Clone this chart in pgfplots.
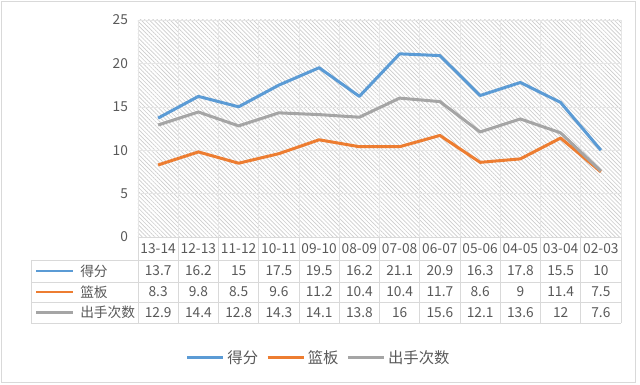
\documentclass[border=0pt]{standalone}
\usepackage{pgfplots}
\pgfplotsset{compat=1.18}
\usepackage{pgfplotstable}
\usepackage{fontspec}
\setmainfont{Noto Sans CJK SC}
\usetikzlibrary{patterns.meta}
\definecolor{cBlue}{HTML}{5B9BD5}
\definecolor{cOrange}{HTML}{ED7D31}
\definecolor{cGray}{HTML}{A5A5A5}
\definecolor{cText}{HTML}{595959}
\definecolor{cLine}{HTML}{D9D9D9}
\definecolor{cGrid}{HTML}{E6E6E6}
\definecolor{cHatch}{HTML}{CDCDCD}

\pgfplotstableread{
x season pts reb fga
0 13-14 13.7 8.3 12.9
1 12-13 16.2 9.8 14.4
2 11-12 15 8.5 12.8
3 10-11 17.5 9.6 14.3
4 09-10 19.5 11.2 14.1
5 08-09 16.2 10.4 13.8
6 07-08 21.1 10.4 16
7 06-07 20.9 11.7 15.6
8 05-06 16.3 8.6 12.1
9 04-05 17.8 9 13.6
10 03-04 15.5 11.4 12
11 02-03 10 7.5 7.6
}\data

\begin{document}
\begin{tikzpicture}
\useasboundingbox (0,0) rectangle (480pt,288.75pt);
\draw[cLine, line width=0.75pt] (1pt,1.5pt) rectangle (476.25pt,287.25pt);
\begin{axis}[
  at={(103.5pt,111pt)}, anchor=south west,
  scale only axis, width=362.25pt, height=162.75pt,
  xmin=-0.5, xmax=11.5, ymin=0, ymax=25,
  ytick={0,5,...,25},
  xtick={0,...,11},
  xticklabels={13-14,12-13,11-12,10-11,09-10,08-09,07-08,06-07,05-06,04-05,03-04,02-03},
  minor xtick={-0.5,0.5,...,11.5},
  xminorgrids, ymajorgrids,
  grid style={cGrid, line width=0.4pt},
  minor grid style={cGrid, line width=0.4pt},
  major tick length=0pt, minor tick length=0pt,
  axis line style={draw=none},
  clip=false,
  /pgf/number format/assume math mode=true,
  tick label style={font=\fontsize{10.3}{12}\selectfont, text=cText},
  yticklabel style={xshift=-4pt},
  xticklabel style={anchor=center, yshift=-9pt},
  axis background/.style={fill=white, postaction={pattern={Lines[angle=-45,distance=2.2pt,line width=0.5pt]}, pattern color=cHatch}},
  legend style={at={(0.3747,-0.5576)}, anchor=center, draw=none, fill=none,
    font=\fontsize{11.5}{13}\selectfont, text=cText, legend columns=3,
    /tikz/every even column/.append style={column sep=4pt}},
  legend image code/.code={\draw[#1] (0pt,0pt) -- (27pt,0pt);},
]
\addplot[cBlue, line width=2.25pt, line join=round] table[x=x, y=pts] {\data};
\addlegendentry{得分}
\addplot[cOrange, line width=2.25pt, line join=round] table[x=x, y=reb] {\data};
\addlegendentry{篮板}
\addplot[cGray, line width=2.25pt, line join=round] table[x=x, y=fga] {\data};
\addlegendentry{出手次数}

% data table grid
\draw[cLine, line width=0.6pt] (axis cs:-0.5,0) -- (axis cs:11.5,0);
\draw[cLine, line width=0.6pt] (axis cs:-3.158,-2.65) -- (axis cs:11.5,-2.65);
\draw[cLine, line width=0.6pt] (axis cs:-3.158,-5.18) -- (axis cs:11.5,-5.18);
\draw[cLine, line width=0.6pt] (axis cs:-3.158,-7.49) -- (axis cs:11.5,-7.49);
\draw[cLine, line width=0.6pt] (axis cs:-3.158,-9.91) -- (axis cs:11.5,-9.91);
\draw[cLine, line width=0.6pt] (axis cs:-3.158,-2.65) -- (axis cs:-3.158,-9.91);
\pgfplotsinvokeforeach{-0.5,0.5,1.5,2.5,3.5,4.5,5.5,6.5,7.5,8.5,9.5,10.5,11.5}{
  \draw[cLine, line width=0.6pt] (axis cs:#1,0) -- (axis cs:#1,-9.91);
}
% row keys
\draw[cBlue, line width=1.7pt] (axis cs:-3.034,-3.92) -- (axis cs:-2.115,-3.92);
\draw[cOrange, line width=1.7pt] (axis cs:-3.034,-6.34) -- (axis cs:-2.115,-6.34);
\draw[cGray, line width=1.7pt] (axis cs:-3.034,-8.70) -- (axis cs:-2.115,-8.70);
\node[anchor=west, text=cText, font=\fontsize{10.3}{12}\selectfont, inner sep=0pt] at (axis cs:-1.941,-3.92) {得分};
\node[anchor=west, text=cText, font=\fontsize{10.3}{12}\selectfont, inner sep=0pt] at (axis cs:-1.941,-6.34) {篮板};
\node[anchor=west, text=cText, font=\fontsize{10.3}{12}\selectfont, inner sep=0pt] at (axis cs:-1.941,-8.70) {出手次数};

% values
\addplot[draw=none, mark=none, forget plot, nodes near coords, point meta=explicit symbolic,
  nodes near coords style={anchor=center, text=cText, font=\fontsize{10.3}{12}\selectfont}]
  table[x=x, y expr=-3.92, meta=pts] {\data};
\addplot[draw=none, mark=none, forget plot, nodes near coords, point meta=explicit symbolic,
  nodes near coords style={anchor=center, text=cText, font=\fontsize{10.3}{12}\selectfont}]
  table[x=x, y expr=-6.34, meta=reb] {\data};
\addplot[draw=none, mark=none, forget plot, nodes near coords, point meta=explicit symbolic,
  nodes near coords style={anchor=center, text=cText, font=\fontsize{10.3}{12}\selectfont}]
  table[x=x, y expr=-8.70, meta=fga] {\data};
\end{axis}
\end{tikzpicture}
\end{document}
